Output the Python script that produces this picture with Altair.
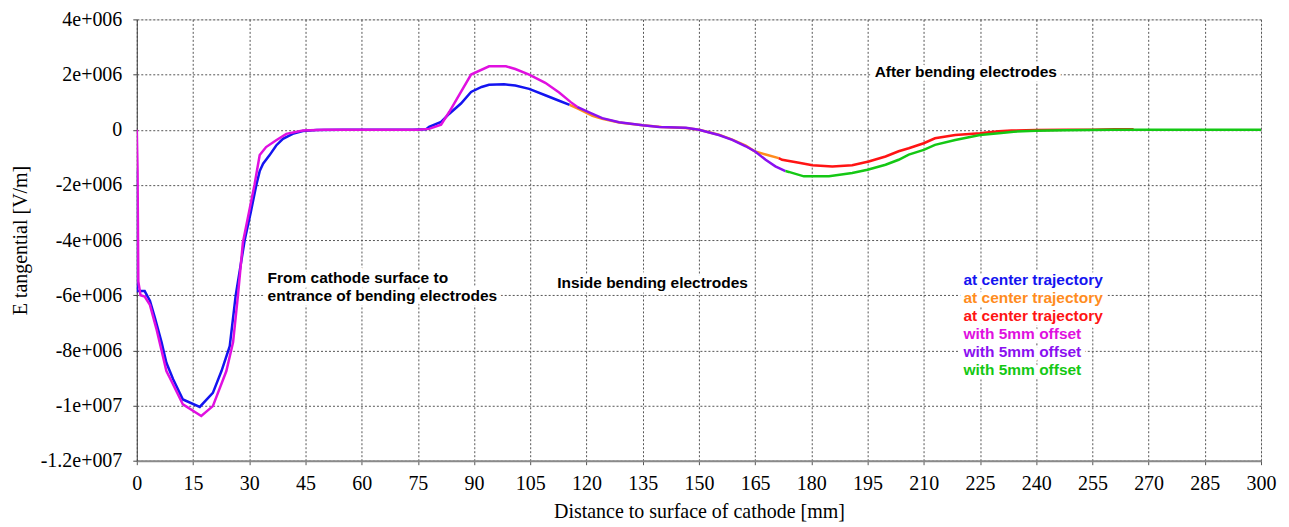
import altair as alt
import pandas as pd

# ---------------- data (x in mm, E in V/m) ----------------
# at center trajectory, part 1 (blue)
c1_x = [0, 0.05, 2.1, 3.5, 4.8, 6.6, 7.9, 9.7, 12.3, 16.8, 20.3, 22.6, 24.8, 26.4, 28.8,
        30.4, 31.9, 32.8, 33.7, 35.4, 37.2, 39.0, 41.6, 44.3, 48, 55, 65, 73.6, 77.2, 78.0,
        81.2, 83.4, 86.5, 89.2, 92, 94, 98, 101, 104.7, 109, 112.7, 115.5]
c1_y = [-1.45e6, -5.85e6, -5.85e6, -6.2e6, -6.8e6, -7.7e6, -8.45e6, -9.05e6, -9.78e6, -10.05e6,
        -9.54e6, -8.75e6, -7.85e6, -6.0e6, -4.0e6, -3.0e6, -2.0e6, -1.5e6, -1.23e6, -0.93e6,
        -0.57e6, -0.33e6, -0.15e6, -0.05e6, -0.01e6, 0, 0, 0, 0.02e6, 0.1e6,
        0.28e6, 0.58e6, 0.95e6, 1.37e6, 1.55e6, 1.63e6, 1.65e6, 1.6e6, 1.48e6, 1.25e6, 1.05e6, 0.9e6]

# at center trajectory, part 2 (orange)
c2_x = [115.5, 118, 121.6, 124.2, 128.7, 135, 140, 146.5, 150, 155.3, 158.9, 162.5, 165, 167.8, 171.3]
c2_y = [0.9e6, 0.75e6, 0.5e6, 0.4e6, 0.26e6, 0.16e6, 0.1e6, 0.06e6, 0, -0.18e6, -0.36e6,
        -0.58e6, -0.79e6, -0.9e6, -1.03e6]

# at center trajectory, part 3 (red)
c3_x = [171.3, 172.2, 176.7, 180.3, 185.6, 190.9, 195.3, 199.8, 203.3, 206, 210, 213, 218.4,
        225, 230, 233.4, 240, 247.7, 255, 261, 266]
c3_y = [-1.03e6, -1.09e6, -1.2e6, -1.29e6, -1.33e6, -1.29e6, -1.15e6, -0.97e6, -0.78e6, -0.67e6,
        -0.49e6, -0.31e6, -0.19e6, -0.13e6, -0.06e6, -0.03e6, -0.01e6, 0, 0, 0.02e6, 0.02e6]

# with 5mm offset, part 1 (magenta)
o1_x = [0, 0.2, 0.4, 1.0, 2.1, 3.5, 5.2, 7.9, 9.2, 12.3, 17.2, 20.3, 23.9, 25.7, 27.0, 28.3,
        31.4, 32.8, 34.5, 37.2, 39.9, 44.3, 50, 75, 78, 81.2, 83.4, 86, 89.2, 94, 98.5, 101,
        104.7, 109, 112.7, 115.8, 117.5]
o1_y = [0, -1.5e6, -5.5e6, -6.0e6, -6.05e6, -6.35e6, -7.2e6, -8.75e6, -9.1e6, -9.96e6, -10.38e6,
        -10.02e6, -8.75e6, -7.7e6, -6.0e6, -4.1e6, -2.0e6, -0.92e6, -0.63e6, -0.38e6, -0.15e6,
        -0.03e6, 0, 0, 0.03e6, 0.18e6, 0.65e6, 1.25e6, 2.0e6, 2.3e6, 2.3e6, 2.2e6,
        2.0e6, 1.7e6, 1.35e6, 1.0e6, 0.83e6]

# with 5mm offset, part 2 (purple)
o2_x = [117.5, 120.7, 124.2, 128.7, 135, 139.4, 146.5, 150, 155.3, 158.9, 162.5, 165, 167.8, 170.4, 173.1]
o2_y = [0.83e6, 0.63e6, 0.42e6, 0.27e6, 0.16e6, 0.1e6, 0.07e6, 0, -0.19e6, -0.37e6, -0.6e6,
        -0.79e6, -1.09e6, -1.33e6, -1.5e6]

# with 5mm offset, part 3 (green)
o3_x = [173.1, 174, 178, 184.7, 190.9, 195, 199.8, 203.3, 206, 210, 213, 218.4, 225, 230, 234,
        240, 247.7, 260, 300]
o3_y = [-1.5e6, -1.53e6, -1.69e6, -1.69e6, -1.57e6, -1.45e6, -1.27e6, -1.09e6, -0.9e6, -0.73e6,
        -0.55e6, -0.37e6, -0.19e6, -0.13e6, -0.07e6, -0.04e6, -0.02e6, 0, 0]

series_colors = ["#1414f0", "#ff8c1e", "#ff1414", "#e010e0", "#8a10f0", "#14c814"]
series_data = [(c1_x, c1_y), (c2_x, c2_y), (c3_x, c3_y), (o1_x, o1_y), (o2_x, o2_y), (o3_x, o3_y)]

legend_labels = ["at center trajectory", "at center trajectory", "at center trajectory",
                 "with 5mm offset", "with 5mm offset", "with 5mm offset"]

x_ticks = list(range(0, 301, 15))
y_ticks = [4e6, 2e6, 0, -2e6, -4e6, -6e6, -8e6, -1e7, -1.2e7]
y_tick_labels = ["4e+006", "2e+006", "0", "-2e+006", "-4e+006", "-6e+006", "-8e+006",
                 "-1e+007", "-1.2e+007"]

# ---------------- chart ----------------
W, H = 1126, 442
SERIF = "Liberation Serif"
SANS = "Liberation Sans"

label_expr = "".join(
    f"round(datum.value) == {int(v)} ? '{l}' : " for v, l in zip(y_ticks, y_tick_labels)
) + "''"

xscale = alt.Scale(domain=[0, 300], nice=False, zero=False)
yscale = alt.Scale(domain=[-1.2e7, 4e6], nice=False, zero=False)

xaxis = alt.Axis(values=x_ticks, grid=True, gridDash=[2, 2], gridColor="#555", gridWidth=1,
                 tickSize=4, tickColor="#555", domainColor="#8a8a8a", domainWidth=2,
                 labelFont=SERIF, labelFontSize=20, labelColor="black", labelPadding=9,
                 labelOverlap=False, labelFlush=False,
                 title="Distance to surface of cathode [mm]", titleFont=SERIF, titleFontSize=20,
                 titleFontWeight="normal", titleColor="black", titlePadding=8)
yaxis = alt.Axis(values=y_ticks, labelExpr=label_expr, grid=True, gridDash=[2, 2],
                 gridColor="#555", gridWidth=1, tickSize=4, tickColor="#444",
                 domainColor="#444", domainWidth=1,
                 labelFont=SERIF, labelFontSize=20, labelColor="black", labelPadding=11,
                 labelOverlap=False, labelFlush=False,
                 title="E tangential [V/m]", titleFont=SERIF, titleFontSize=20,
                 titleFontWeight="normal", titleColor="black", titleX=-106, titleY=H / 2,
                 titleAngle=270, titleAlign="center", titleBaseline="bottom")

layers = []
for (xs, ys), col in zip(series_data, series_colors):
    df = pd.DataFrame({"x": xs, "y": ys, "i": list(range(len(xs)))})
    layers.append(
        alt.Chart(df).mark_line(color=col, strokeWidth=2.5, clip=True).encode(
            x=alt.X("x:Q", scale=xscale, axis=xaxis),
            y=alt.Y("y:Q", scale=yscale, axis=yaxis),
            order="i:Q",
        )
    )

# annotation texts: (text, px-x, px-y baseline, colour) relative to plot origin
notes = [
    ("From cathode surface to", 131, 264, "black"),
    ("entrance of bending electrodes", 131, 282, "black"),
    ("Inside bending electrodes", 421, 269, "black"),
    ("After bending electrodes", 739, 58, "black"),
]
for k, (lab, col) in enumerate(zip(legend_labels, series_colors)):
    notes.append((lab, 828, 266 + 18 * k, col))


def text_layer(txt, px, py, col, halo=False):
    base = alt.Chart(pd.DataFrame({"t": [txt]}))
    if halo:
        mk = base.mark_text(align="left", baseline="alphabetic", font=SANS, fontSize=15.5,
                            fontWeight="bold", fill="white", stroke="white", strokeWidth=9,
                            strokeJoin="round")
    else:
        mk = base.mark_text(align="left", baseline="alphabetic", font=SANS, fontSize=15.5,
                            fontWeight="bold", color=col)
    return mk.encode(text="t:N", x=alt.value(px), y=alt.value(py))


for t, px, py, col in notes:
    layers.append(text_layer(t, px, py, col, halo=True))
for t, px, py, col in notes:
    layers.append(text_layer(t, px, py, col))

chart = (
    alt.layer(*layers)
    .properties(width=W, height=H,
                padding={"left": 129, "top": 11, "right": 20, "bottom": 62},
                autosize=alt.AutoSizeParams(type="none"))
    .configure_view(stroke="#555", strokeWidth=1)
    .configure(background="white")
)

chart.save("out.html", embed_options={"renderer": "svg", "actions": False})
